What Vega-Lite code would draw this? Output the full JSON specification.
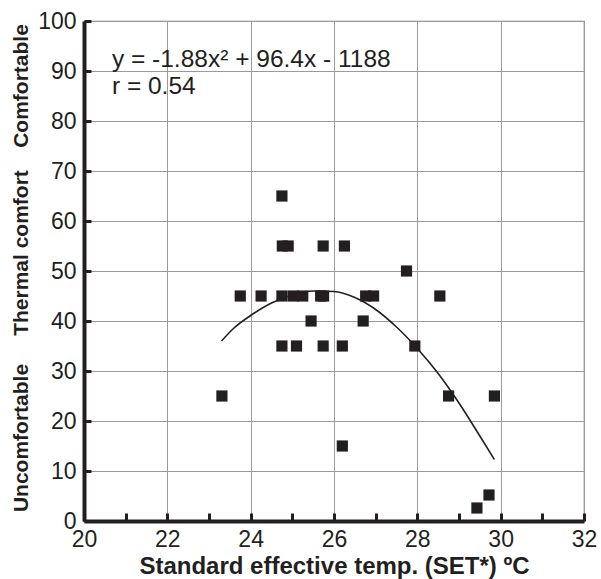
{
  "$schema": "https://vega.github.io/schema/vega-lite/v6.json",
  "width": 500,
  "height": 500,
  "autosize": {"type": "none"},
  "padding": {"left": 84, "top": 21, "right": 17, "bottom": 58},
  "background": "white",
  "config": {
    "view": {"stroke": "#777", "strokeWidth": 1.2},
    "font": "Liberation Sans",
    "axis": {
      "labelFont": "Liberation Sans",
      "titleFont": "Liberation Sans",
      "labelColor": "#231f20",
      "titleColor": "#231f20",
      "domainColor": "#231f20",
      "domainWidth": 4,
      "tickColor": "#231f20",
      "tickWidth": 3,
      "gridColor": "#9a9a9a",
      "gridWidth": 1
    }
  },
  "layer": [
    {
      "data": {"values": [
        {"set": 23.31, "comfort": 25},
        {"set": 23.75, "comfort": 45},
        {"set": 24.25, "comfort": 45},
        {"set": 24.75, "comfort": 65},
        {"set": 24.76, "comfort": 55},
        {"set": 24.9, "comfort": 55},
        {"set": 24.75, "comfort": 45},
        {"set": 25.02, "comfort": 45},
        {"set": 25.25, "comfort": 45},
        {"set": 24.75, "comfort": 35},
        {"set": 25.1, "comfort": 35},
        {"set": 25.45, "comfort": 40},
        {"set": 25.68, "comfort": 45},
        {"set": 25.75, "comfort": 45},
        {"set": 25.74, "comfort": 55},
        {"set": 25.74, "comfort": 35},
        {"set": 26.25, "comfort": 55},
        {"set": 26.2, "comfort": 35},
        {"set": 26.2, "comfort": 15},
        {"set": 26.7, "comfort": 40},
        {"set": 26.76, "comfort": 45},
        {"set": 26.95, "comfort": 45},
        {"set": 27.74, "comfort": 50},
        {"set": 27.94, "comfort": 35},
        {"set": 28.54, "comfort": 45},
        {"set": 28.75, "comfort": 25},
        {"set": 29.85, "comfort": 25},
        {"set": 29.43, "comfort": 2.6},
        {"set": 29.72, "comfort": 5.2}
      ]},
      "mark": {"type": "square", "filled": true, "size": 125, "color": "#231f20", "opacity": 1},
      "encoding": {
        "x": {
          "field": "set", "type": "quantitative",
          "scale": {"domain": [20, 32], "nice": false, "zero": false},
          "axis": {
            "values": [20, 21, 22, 23, 24, 25, 26, 27, 28, 29, 30, 31, 32],
            "labelExpr": "datum.value % 2 == 0 ? datum.label : ''",
            "gridOpacity": {"condition": {"test": "datum.value % 2 == 0", "value": 1}, "value": 0},
            "tickSize": -8,
            "labelFontSize": 23,
            "labelPadding": 15,
            "labelFlush": false,
            "title": "Standard effective temp. (SET*) ºC",
            "titleFontSize": 24,
            "titleFontWeight": "bold",
            "titlePadding": 3
          }
        },
        "y": {
          "field": "comfort", "type": "quantitative",
          "scale": {"domain": [0, 100], "nice": false},
          "axis": {
            "values": [0, 10, 20, 30, 40, 50, 60, 70, 80, 90, 100],
            "tickSize": -7,
            "labelFontSize": 23,
            "labelPadding": 15,
            "labelFlush": false,
            "title": null
          }
        }
      }
    },
    {
      "data": {"values": [
        {"set": 23.3, "comfort": 36},
        {"set": 23.6, "comfort": 38.6},
        {"set": 24.0, "comfort": 41.1},
        {"set": 24.5, "comfort": 43.6},
        {"set": 25.0, "comfort": 45.2},
        {"set": 25.5, "comfort": 46},
        {"set": 26.0, "comfort": 45.9},
        {"set": 26.5, "comfort": 44.7},
        {"set": 27.0, "comfort": 42.3},
        {"set": 27.5, "comfort": 38.8},
        {"set": 28.0, "comfort": 34.5},
        {"set": 28.5, "comfort": 29.5},
        {"set": 29.0, "comfort": 23.6},
        {"set": 29.5, "comfort": 17},
        {"set": 29.85, "comfort": 12.3}
      ]},
      "mark": {"type": "line", "color": "#231f20", "strokeWidth": 1.6, "interpolate": "monotone"},
      "encoding": {
        "x": {"field": "set", "type": "quantitative"},
        "y": {"field": "comfort", "type": "quantitative"}
      }
    },
    {
      "data": {"values": [
        {"set": 20.67, "comfort": 90.8, "label": "y = -1.88x² + 96.4x - 1188"},
        {"set": 20.67, "comfort": 85.5, "label": "r = 0.54"}
      ]},
      "mark": {"type": "text", "align": "left", "baseline": "alphabetic", "fontSize": 24.5, "font": "Liberation Sans", "color": "#231f20"},
      "encoding": {
        "x": {"field": "set", "type": "quantitative"},
        "y": {"field": "comfort", "type": "quantitative"},
        "text": {"field": "label"}
      }
    },
    {
      "data": {"values": [
        {"set": 18.5, "comfort": 16.6, "label": "Uncomfortable"},
        {"set": 18.5, "comfort": 53.6, "label": "Thermal comfort"},
        {"set": 18.5, "comfort": 87, "label": "Comfortable"}
      ]},
      "mark": {"type": "text", "align": "center", "baseline": "middle", "angle": 270, "fontSize": 21, "fontWeight": "bold", "font": "Liberation Sans", "color": "#231f20"},
      "encoding": {
        "x": {"field": "set", "type": "quantitative"},
        "y": {"field": "comfort", "type": "quantitative"},
        "text": {"field": "label"}
      }
    }
  ]
}
